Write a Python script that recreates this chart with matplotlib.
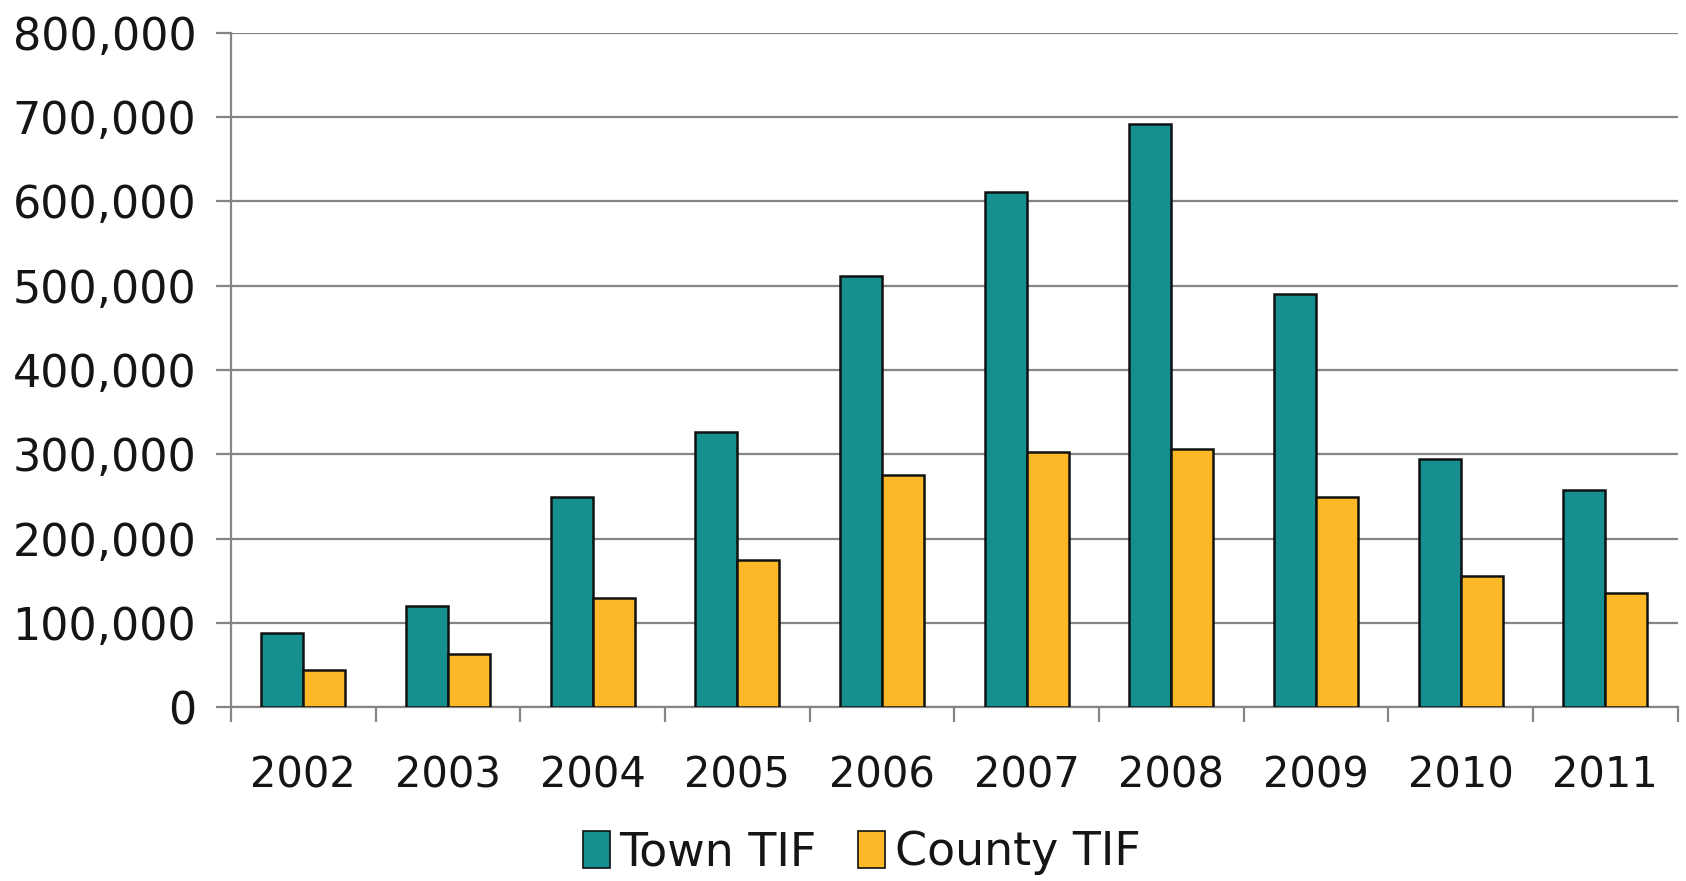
import matplotlib

matplotlib.use("Agg")
import matplotlib.pyplot as plt
import numpy as np
from matplotlib.ticker import FuncFormatter, MultipleLocator

YEARS = ["2002", "2003", "2004", "2005", "2006", "2007", "2008", "2009", "2010", "2011"]
TOWN_TIF = [88000, 120000, 249000, 326000, 512000, 611000, 692000, 490000, 295000, 258000]
COUNTY_TIF = [44000, 63000, 130000, 175000, 275000, 303000, 306000, 250000, 156000, 136000]

TEAL = "#15908f"
GOLD = "#fdb827"
GRID = "#858585"

plt.rcParams["font.family"] = ["DejaVu Sans"]

fig = plt.figure(figsize=(16.86, 8.81), dpi=100)
ax = fig.add_axes([0.137, 0.197, 0.858, 0.766])

x = np.arange(len(YEARS))
w = 0.29
ax.bar(x - w / 2, TOWN_TIF, w, color=TEAL, edgecolor="#111111", lw=1.8,
       label="Town TIF", zorder=3)
ax.bar(x + w / 2, COUNTY_TIF, w, color=GOLD, edgecolor="#111111", lw=1.8,
       label="County TIF", zorder=3)

ax.set_ylim(0, 800000)
ax.set_xlim(-0.5, len(YEARS) - 0.5)
ax.yaxis.set_major_locator(MultipleLocator(100000))
ax.yaxis.set_major_formatter(FuncFormatter(lambda v, _: f"{int(v):,}"))
ax.grid(axis="y", color=GRID, lw=1.6, zorder=0)

# year labels sit between the tick marks, which fall on category boundaries
ax.set_xticks(x)
ax.set_xticklabels(YEARS)
ax.set_xticks(np.arange(-0.5, len(YEARS)), minor=True)
ax.tick_params(axis="x", which="major", length=0, pad=34, labelsize=30)
ax.tick_params(axis="x", which="minor", length=11, width=1.6, color=GRID,
               direction="out")
ax.tick_params(axis="y", length=11, width=1.6, color=GRID, pad=14,
               labelsize=32)
ax.tick_params(labelcolor="#151515")

for side in ("top", "right"):
    ax.spines[side].set_visible(False)
for side in ("left", "bottom"):
    ax.spines[side].set_color(GRID)
    ax.spines[side].set_linewidth(1.6)

leg = fig.legend(loc="center", bbox_to_anchor=(0.511, 0.032), ncol=2,
                 frameon=False, fontsize=33, handlelength=0.6, handleheight=0.85,
                 handletextpad=0.2, columnspacing=0.9, labelcolor="#151515")
for h in leg.legend_handles:
    h.set_linewidth(1.2)

fig.savefig("out.png", dpi=100, facecolor="white")
